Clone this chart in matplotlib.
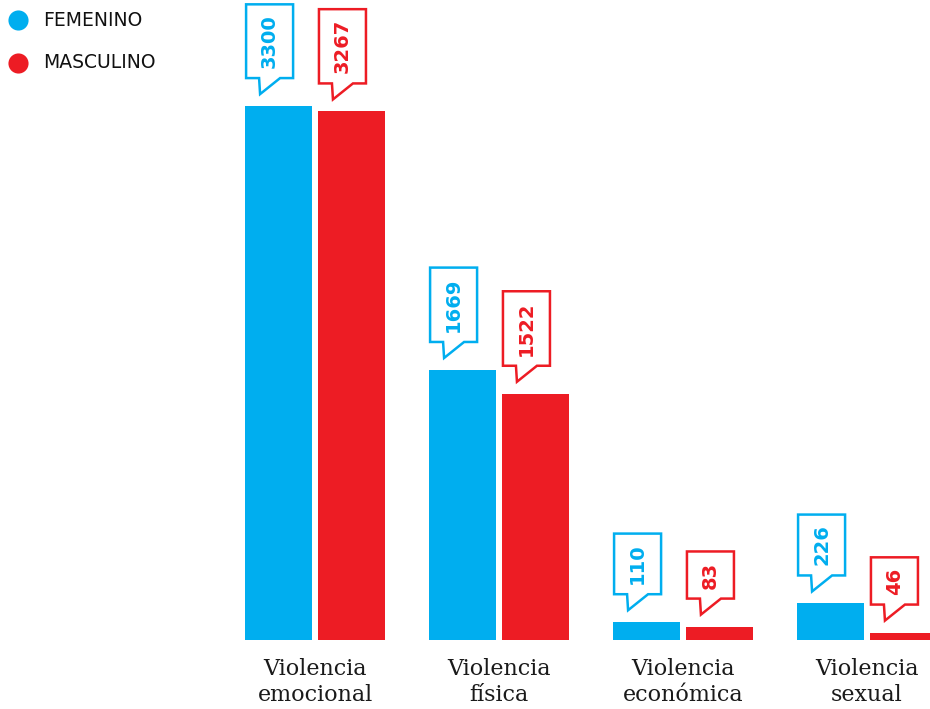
import matplotlib.pyplot as plt
from matplotlib.patches import Polygon
from matplotlib import transforms
import numpy as np

# data
categories = ['Violencia\nemocional', 'Violencia\nfísica', 'Violencia\neconómica', 'Violencia\nsexual']
femenino = [3300, 1669, 110, 226]
masculino = [3267, 1522, 83, 46]
series_names = ['FEMENINO', 'MASCULINO']

BLUE = '#00AEEF'
RED = '#ED1C24'

fig = plt.figure(figsize=(9.3, 7.09), dpi=100)
ax = fig.add_axes([0.2398, 0.0973, 0.7617, 0.89])

x = np.arange(len(categories))
width = 0.364
off = 0.198
ax.bar(x - off, femenino, width, color=BLUE)
ax.bar(x + off, masculino, width, color=RED)

ax.set_xlim(-0.5, 3.35)
ax.set_ylim(0, 3900)
for s in ax.spines.values():
    s.set_visible(False)
ax.set_yticks([])
ax.set_xticks(x)
ax.set_xticklabels(categories, family='DejaVu Serif', fontsize=16,
                   linespacing=1.22, color='#1a1a1a')
ax.tick_params(axis='x', length=0, pad=13)

renderer = fig.canvas.get_renderer()


def callout(x_left, top, value, color):
    # offsets in pixels from the bar's top-left corner, converted to inches
    trans = fig.dpi_scale_trans + transforms.ScaledTranslation(x_left, top, ax.transData)
    t = ax.text(0, 0, str(value), rotation=90, fontsize=14, fontweight='bold',
                color=color, ha='center', va='center', transform=trans, clip_on=False)
    ext = t.get_window_extent(renderer)
    h = ext.height + 20
    d = fig.dpi
    t.set_position((24.5 / d, (28 + h / 2) / d))
    pts = [(15, 12), (35, 28), (48, 28), (48, 28 + h), (1, 28 + h), (1, 28), (14, 28)]
    pts = [(px / d, py / d) for px, py in pts]
    ax.add_patch(Polygon(pts, closed=True, fill=False, edgecolor=color, lw=1.8,
                         joinstyle='miter', transform=trans, clip_on=False))


for i in range(len(categories)):
    callout(x[i] - off - width / 2, femenino[i], femenino[i], BLUE)
    callout(x[i] + off - width / 2, masculino[i], masculino[i], RED)

# legend
for name, col, yy in zip(series_names, [BLUE, RED], [1 - 20 / 709, 1 - 63 / 709]):
    ax.scatter([18 / 930], [yy], s=210, color=col, transform=fig.transFigure,
               clip_on=False, linewidths=0)
    fig.text(43 / 930, yy, name, fontsize=13.5, color='#111111', va='center', ha='left')

fig.savefig('out.png', dpi=100)
